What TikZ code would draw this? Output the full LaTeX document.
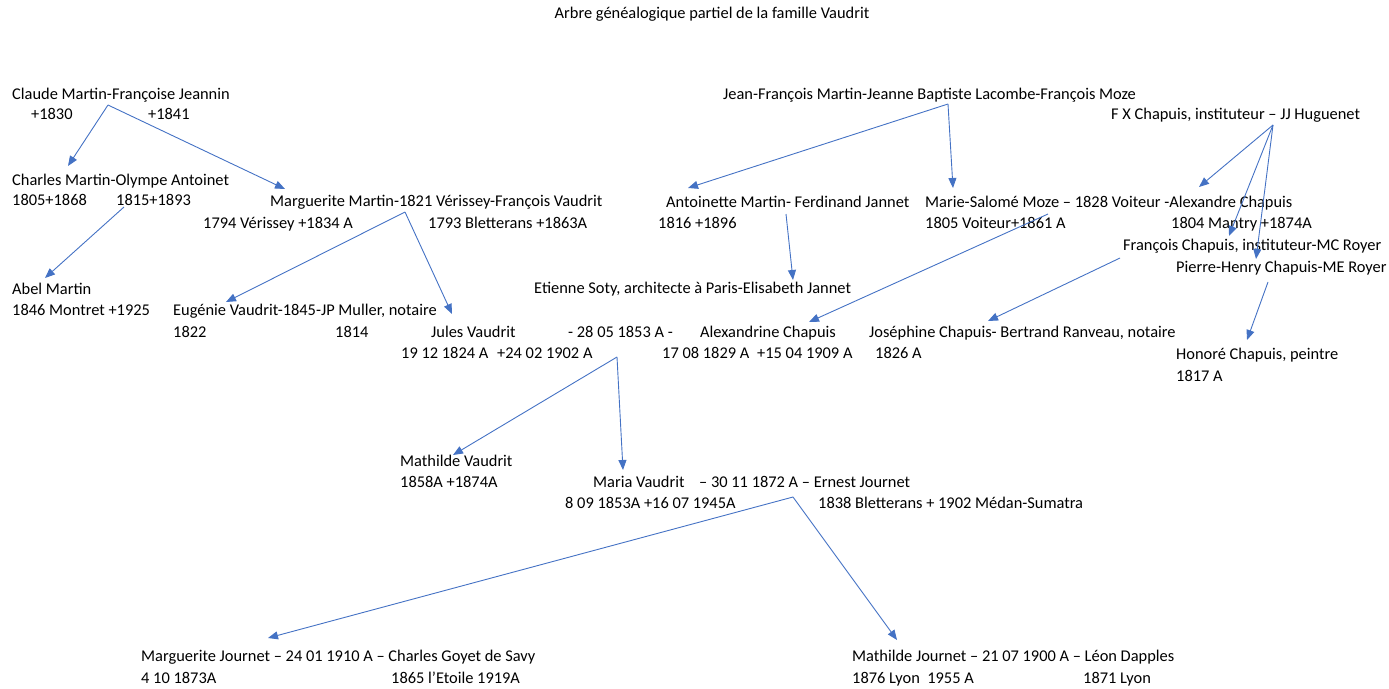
\documentclass[tikz,border=0pt]{standalone}
\usepackage{fontspec}
\setmainfont{Carlito}
\usetikzlibrary{arrows.meta}
\definecolor{linkblue}{HTML}{4472C4}
\tikzset{
  person/.style={anchor=west, inner sep=0pt, text height=11pt, text depth=3pt, font=\fontsize{16.4}{20}\selectfont},
  link/.style={draw=linkblue, line width=0.9pt, -{Triangle[length=10pt,width=8pt]}}
}

\begin{document}
\begin{tikzpicture}[x=1pt,y=-1pt]
    \useasboundingbox (0,0) rectangle (1389,688);
    \node[person, anchor=center] (title) at (712,15) {Arbre généalogique partiel de la famille Vaudrit};
    % Martin - Jeannin
    \node[person] (claude) at (12,95) {Claude Martin-Françoise Jeannin};
    \node[person] (claudeA) at (31,115) {+1830};
    \node[person] (claudeB) at (148,115) {+1841};
    \node[person] (charles) at (12,181) {Charles Martin-Olympe Antoinet};
    \node[person] (charlesA) at (12,201) {1805+1868};
    \node[person] (charlesB) at (116,201) {1815+1893};
    \node[person] (marguerite) at (270,202) {Marguerite Martin-1821 Vérissey-François Vaudrit};
    \node[person] (margueriteA) at (203,224) {1794 Vérissey +1834 A};
    \node[person] (margueriteB) at (428,224) {1793 Bletterans +1863A};
    \node[person] (abel) at (12,290) {Abel Martin};
    \node[person] (abelA) at (12,311) {1846 Montret +1925};
    \node[person] (eugenie) at (173,311) {Eugénie Vaudrit-1845-JP Muller, notaire};
    \node[person] (eugenieA) at (173,333) {1822};
    \node[person] (eugenieB) at (335,333) {1814};
    \node[person] (jules) at (431,333) {Jules Vaudrit};
    \node[person] (noces) at (568,333) {- 28 05 1853 A -};
    \node[person] (alexandrine) at (700,333) {Alexandrine Chapuis};
    \node[person] (julesA) at (401,354) {19 12 1824 A};
    \node[person] (julesB) at (497,354) {+24 02 1902 A};
    \node[person] (alexandrineA) at (662,354) {17 08 1829 A};
    \node[person] (alexandrineB) at (757,354) {+15 04 1909 A};
    % Martin - Lacombe - Moze
    \node[person] (jeanfrancois) at (723,95) {Jean-François Martin-Jeanne Baptiste Lacombe-François Moze};
    \node[person] (antoinette) at (666,203) {Antoinette Martin- Ferdinand Jannet};
    \node[person] (antoinetteA) at (658,224) {1816 +1896};
    \node[person] (marie) at (925,203) {Marie-Salomé Moze – 1828 Voiteur -Alexandre Chapuis};
    \node[person] (marieA) at (925,224) {1805 Voiteur+1861 A};
    \node[person] (marieB) at (1171,224) {1804 Mantry +1874A};
    \node[person] (soty) at (534,289) {Etienne Soty, architecte à Paris-Elisabeth Jannet};
    % Chapuis - Huguenet
    \node[person] (fx) at (1111,115) {F X Chapuis, instituteur – JJ Huguenet};
    \node[person] (francois) at (1123,246) {François Chapuis, instituteur-MC Royer};
    \node[person] (pierre) at (1176,268) {Pierre-Henry Chapuis-ME Royer};
    \node[person] (josephine) at (869,333) {Joséphine Chapuis- Bertrand Ranveau, notaire};
    \node[person] (josephineA) at (875,354) {1826 A};
    \node[person] (honore) at (1176,355) {Honoré Chapuis, peintre};
    \node[person] (honoreA) at (1176,377) {1817 A};
    % Vaudrit - Chapuis
    \node[person] (mathilde) at (400,462) {Mathilde Vaudrit};
    \node[person] (mathildeA) at (400,483) {1858A +1874A};
    \node[person] (maria) at (593,483) {Maria Vaudrit};
    \node[person] (journet) at (699,483) {– 30 11 1872 A – Ernest Journet};
    \node[person] (mariaA) at (565,504) {8 09 1853A +16 07 1945A};
    \node[person] (journetA) at (818,504) {1838 Bletterans + 1902 Médan-Sumatra};
    \node[person] (margj) at (141,657) {Marguerite Journet – 24 01 1910 A – Charles Goyet de Savy};
    \node[person] (margjA) at (141,679) {4 10 1873A};
    \node[person] (margjB) at (391,679) {1865 l’Etoile 1919A};
    \node[person] (mathj) at (852,657) {Mathilde Journet – 21 07 1900 A – Léon Dapples};
    \node[person] (mathjA) at (852,679) {1876 Lyon\ \ 1955 A};
    \node[person] (mathjB) at (1083,679) {1871 Lyon};

    \coordinate (claude-out) at (108,105);
    \coordinate (charles-in) at (68,166);
    \coordinate (marguerite-in) at (285,189);
    \coordinate (charles-out) at (124,207);
    \coordinate (abel-in) at (45,278);
    \coordinate (marguerite-out) at (405,212);
    \coordinate (eugenie-in) at (226,302);
    \coordinate (jules-in) at (452,314);
    \coordinate (jeanfrancois-out) at (948,104);
    \coordinate (antoinette-in) at (688,188);
    \coordinate (marie-in) at (953,188);
    \coordinate (antoinette-out) at (786,214);
    \coordinate (soty-in) at (793,280);
    \coordinate (marie-out) at (1048,214);
    \coordinate (alexandrine-in) at (809,322);
    \coordinate (fx-out) at (1273,125);
    \coordinate (alexandre-in) at (1199,187);
    \coordinate (francois-in) at (1229,236);
    \coordinate (pierre-in) at (1256,259);
    \coordinate (francois-out) at (1120,258);
    \coordinate (josephine-in) at (988,321);
    \coordinate (pierre-out) at (1268,282);
    \coordinate (honore-in) at (1247,340);
    \coordinate (noces-out) at (617,357);
    \coordinate (mathilde-in) at (453,455);
    \coordinate (maria-in) at (623,470);
    \coordinate (journet-out) at (793,497);
    \coordinate (margj-in) at (268,638);
    \coordinate (mathj-in) at (897,640);

    \draw[link] (claude-out) -- (charles-in);
    \draw[link] (claude-out) -- (marguerite-in);
    \draw[link] (charles-out) -- (abel-in);
    \draw[link] (marguerite-out) -- (eugenie-in);
    \draw[link] (marguerite-out) -- (jules-in);
    \draw[link] (jeanfrancois-out) -- (antoinette-in);
    \draw[link] (jeanfrancois-out) -- (marie-in);
    \draw[link] (antoinette-out) -- (soty-in);
    \draw[link] (marie-out) -- (alexandrine-in);
    \draw[link] (fx-out) -- (alexandre-in);
    \draw[link] (fx-out) -- (francois-in);
    \draw[link] (fx-out) -- (pierre-in);
    \draw[link] (francois-out) -- (josephine-in);
    \draw[link] (pierre-out) -- (honore-in);
    \draw[link] (noces-out) -- (mathilde-in);
    \draw[link] (noces-out) -- (maria-in);
    \draw[link] (journet-out) -- (margj-in);
    \draw[link] (journet-out) -- (mathj-in);
\end{tikzpicture}
\end{document}
